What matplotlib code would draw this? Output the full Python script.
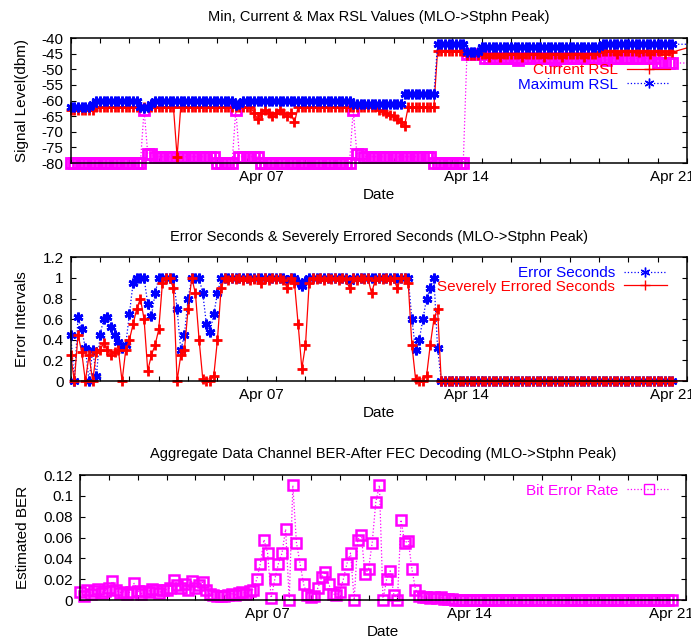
import numpy as np
import pandas as pd
import matplotlib
matplotlib.use('Agg')
import matplotlib.pyplot as plt
import matplotlib.dates as mdates
from matplotlib.lines import Line2D
from matplotlib.ticker import FuncFormatter, MultipleLocator

plt.rcParams['font.family'] = ['Liberation Sans', 'DejaVu Sans']
plt.rcParams['font.size'] = 10.5
plt.rcParams['axes.unicode_minus'] = False

# 3-hourly samples from Mar 31 12:00, plus the last logged point (off the right edge)
sample_times = pd.date_range('2009-03-31 12:00', periods=165, freq='3h')
times = sample_times.append(pd.DatetimeIndex([pd.Timestamp('2009-04-22 12:00')]))
x_start = pd.Timestamp('2009-03-31 12:00')
x_end = pd.Timestamp('2009-04-21 12:00')

# ---- RSL (dBm), one row per day starting at 12:00 ----
min_rsl = [
    -80, -80, -80, -80, -80, -80, -80, -80,
    -80, -80, -80, -80, -80, -80, -80, -80,
    -80, -80, -80, -80, -63, -77, -77, -78,
    -78, -78, -78, -78, -78, -78, -78, -78,
    -78, -78, -78, -78, -78, -78, -78, -78,
    -80, -80, -80, -80, -80, -63, -78, -78,
    -78, -78, -78, -78, -80, -80, -80, -80,
    -80, -80, -80, -80, -80, -80, -80, -80,
    -80, -80, -80, -80, -80, -80, -80, -80,
    -80, -80, -80, -80, -80, -63, -77, -77,
    -78, -78, -78, -78, -78, -78, -78, -78,
    -78, -78, -78, -78, -78, -78, -78, -78,
    -78, -78, -78, -80, -80, -80, -80, -80,
    -80, -80, -80, -80, -45, -45, -45, -45,
    -45, -46.5, -46.5, -46.5, -46.5, -46.5, -46.5, -46.5,
    -46.5, -46.5, -47, -46.5, -46.5, -46.5, -46.5, -46.5,
    -46.5, -46.5, -46.5, -46.5, -47, -46.5, -46.5, -46.5,
    -46.5, -46.5, -46.5, -46.5, -46.5, -46.5, -46.5, -46.5,
    -46.5, -46.5, -47, -46.5, -46.5, -46.5, -46.5, -46.5,
    -46.5, -46.5, -46.5, -46.5, -46.5, -46.5, -46.5, -46.5,
    -48, -48, -48, -48, -48,
    -48,
]

cur_rsl = [
    -63, -63, -63, -63, -63, -63, -63, -62,
    -62, -62, -62, -62, -62, -62, -62, -62,
    -62, -62, -62, -62, -62, -62, -62, -62,
    -62, -62, -62, -62, -62, -78, -62, -62,
    -62, -62, -62, -62, -62, -62, -62, -62,
    -62, -62, -62, -62, -62, -62, -62, -62,
    -62, -62, -64, -66, -64, -63, -64, -65,
    -64, -63, -64, -65, -64, -67, -62, -62,
    -62, -62, -62, -62, -62, -62, -62, -62,
    -62, -62, -62, -62, -62, -62, -62, -62,
    -62, -62, -62, -62, -63, -63.5, -64, -64.5,
    -65, -66, -67, -68, -62, -62, -62, -62,
    -62, -62, -62, -62, -44, -44, -44, -44,
    -44, -44, -44, -44, -45.5, -45.5, -45.5, -45.5,
    -45, -45, -46, -45, -45, -46, -45, -45,
    -45, -45, -45, -46, -45, -45, -45, -45,
    -45, -46, -45, -45, -45, -45, -46, -45,
    -45, -45, -45, -45, -46, -45, -45, -45,
    -44.5, -44, -44, -44, -44, -45, -44, -44,
    -44, -44, -44, -44.5, -44, -44, -45, -44,
    -44, -44, -45, -44, -44.5,
    -40.5,
]

max_rsl = [
    -62, -62, -62, -62, -62, -62, -61, -60,
    -60, -60, -60, -60, -60, -60, -60, -60,
    -60, -60, -60, -62, -62.5, -62, -61, -60,
    -60, -60, -60, -60, -60, -60, -60, -60,
    -60, -60, -60, -60, -60, -60, -60, -60,
    -60, -60, -60, -60, -60, -61.5, -61, -60,
    -60, -60, -60, -60, -60, -60, -60, -60,
    -60, -60, -60, -60, -60, -60, -60, -60,
    -60, -60, -60, -60, -60, -60, -60, -60,
    -60, -60, -60, -60, -60, -61, -61, -61,
    -61, -61, -61, -61, -61, -61, -61, -61,
    -61, -61, -61, -58, -58, -58, -58, -58,
    -58, -58, -58, -58, -42, -42, -42, -42,
    -42, -42, -42, -42, -44.5, -44.5, -44.5, -44.5,
    -43, -43, -43, -43, -43, -43, -43, -43,
    -43, -43, -43, -43, -43, -43, -43, -43,
    -43, -43, -43, -43, -43, -43, -43, -43,
    -43, -43, -43, -43, -43, -43, -43, -43,
    -43, -42, -42, -42, -42, -42, -42, -42,
    -42, -42, -42, -42, -42, -42, -42, -42,
    -42, -42, -42, -42, -42,
    -42,
]

# ---- Error intervals (fraction) ----
err_sec = [
    0.45, 0.0, 0.62, 0.5, 0.32, 0.0, 0.3, 0.05,
    0.45, 0.6, 0.62, 0.52, 0.45, 0.38, 0.32, 0.35,
    0.65, 0.95, 1.0, 1.0, 1.0, 0.75, 0.63, 0.85,
    1.0, 1.0, 1.0, 1.0, 1.0, 0.7, 0.3, 0.45,
    0.8, 1.0, 1.0, 1.0, 0.85, 0.55, 0.48, 0.65,
    0.85, 1.0, 1.0, 1.0, 1.0, 1.0, 1.0, 1.0,
    1.0, 1.0, 1.0, 1.0, 1.0, 1.0, 1.0, 1.0,
    1.0, 1.0, 1.0, 0.98, 1.0, 1.0, 0.96, 0.92,
    0.97, 1.0, 1.0, 1.0, 1.0, 1.0, 1.0, 1.0,
    1.0, 1.0, 1.0, 1.0, 0.97, 1.0, 1.0, 1.0,
    1.0, 1.0, 1.0, 1.0, 1.0, 1.0, 1.0, 1.0,
    1.0, 1.0, 1.0, 1.0, 1.0, 0.6, 0.3, 0.4,
    0.6, 0.8, 0.9, 1.0, 0.32, 0.0, 0.0, 0.0,
    0.0, 0.0, 0.0, 0.0, 0.0, 0.0, 0.0, 0.0,
    0.0, 0.0, 0.0, 0.0, 0.0, 0.0, 0.0, 0.0,
    0.0, 0.0, 0.0, 0.0, 0.0, 0.0, 0.0, 0.0,
    0.0, 0.0, 0.0, 0.0, 0.0, 0.0, 0.0, 0.0,
    0.0, 0.0, 0.0, 0.0, 0.0, 0.0, 0.0, 0.0,
    0.0, 0.0, 0.0, 0.0, 0.0, 0.0, 0.0, 0.0,
    0.0, 0.0, 0.0, 0.0, 0.0, 0.0, 0.0, 0.0,
    0.0, 0.0, 0.0, 0.0, 0.0,
    0.0,
]

sev_err_sec = [
    0.25, 0.0, 0.45, 0.28, 0.0, 0.25, 0.0, 0.28,
    0.3, 0.37, 0.3, 0.25, 0.28, 0.3, 0.0, 0.3,
    0.4, 0.55, 0.7, 0.8, 0.6, 0.1, 0.25, 0.35,
    0.5, 0.95, 1.0, 1.0, 0.9, 0.0, 0.25, 0.3,
    0.7, 1.0, 0.85, 0.4, 0.02, 0.0, 0.0, 0.05,
    0.4, 0.9, 1.0, 0.98, 1.0, 0.99, 1.0, 0.98,
    1.0, 0.98, 0.99, 1.0, 0.95, 1.0, 0.98, 1.0,
    0.99, 1.0, 0.98, 0.9, 1.0, 0.95, 0.55, 0.12,
    0.35, 0.95, 1.0, 0.99, 1.0, 0.98, 1.0, 0.99,
    1.0, 0.98, 1.0, 0.99, 0.9, 1.0, 0.98, 1.0,
    0.99, 1.0, 0.85, 0.98, 1.0, 0.99, 1.0, 0.98,
    1.0, 0.9, 1.0, 1.0, 0.95, 0.35, 0.02, 0.0,
    0.0, 0.05, 0.35, 0.6, 0.7, 0.0, 0.0, 0.0,
    0.0, 0.0, 0.0, 0.0, 0.0, 0.0, 0.0, 0.0,
    0.0, 0.0, 0.0, 0.0, 0.0, 0.0, 0.0, 0.0,
    0.0, 0.0, 0.0, 0.0, 0.0, 0.0, 0.0, 0.0,
    0.0, 0.0, 0.0, 0.0, 0.0, 0.0, 0.0, 0.0,
    0.0, 0.0, 0.0, 0.0, 0.0, 0.0, 0.0, 0.0,
    0.0, 0.0, 0.0, 0.0, 0.0, 0.0, 0.0, 0.0,
    0.0, 0.0, 0.0, 0.0, 0.0, 0.0, 0.0, 0.0,
    0.0, 0.0, 0.0, 0.0, 0.0,
    0.0,
]

# ---- Estimated BER after FEC ----
ber = [
    0.008, 0.004, 0.01, 0.006, 0.009, 0.011, 0.007, 0.009,
    0.012, 0.018, 0.01, 0.007, 0.008, 0.006, 0.008, 0.016,
    0.009, 0.006, 0.009, 0.008, 0.011, 0.01, 0.007, 0.01,
    0.01, 0.012, 0.019, 0.014, 0.012, 0.015, 0.01, 0.018,
    0.012, 0.014, 0.017, 0.01, 0.006, 0.005, 0.004, 0.004,
    0.004, 0.005, 0.006, 0.005, 0.007, 0.008, 0.006, 0.009,
    0.01, 0.02, 0.035, 0.058, 0.045, 0.002, 0.02, 0.035,
    0.045, 0.068, 0.0, 0.11, 0.055, 0.035, 0.015, 0.005,
    0.003, 0.004, 0.012, 0.022, 0.027, 0.015, 0.006, 0.005,
    0.008, 0.02, 0.035, 0.045, 0.0, 0.058, 0.062, 0.025,
    0.03, 0.055, 0.094, 0.11, 0.0, 0.02, 0.028, 0.005,
    0.0, 0.077, 0.055, 0.057, 0.03, 0.01, 0.004, 0.003,
    0.003, 0.002, 0.003, 0.002, 0.003, 0.001, 0.001, 0.0005,
    0.0003, 0.0003, 0.0003, 0.0003, 0.0003, 0.0003, 0.0003, 0.0003,
    0.0003, 0.0003, 0.0003, 0.0003, 0.0003, 0.0003, 0.0003, 0.0003,
    0.0003, 0.0003, 0.0003, 0.0003, 0.0003, 0.0003, 0.0003, 0.0003,
    0.0003, 0.0003, 0.0003, 0.0003, 0.0003, 0.0003, 0.0003, 0.0003,
    0.0003, 0.0003, 0.0003, 0.0003, 0.0003, 0.0003, 0.0003, 0.0003,
    0.0003, 0.0003, 0.0003, 0.0003, 0.0003, 0.0003, 0.0003, 0.0003,
    0.0003, 0.0003, 0.0003, 0.0003, 0.0003, 0.0003, 0.0003, 0.0003,
    0.0003, 0.0003, 0.0003, 0.0003, 0.0003,
    0.0,
]

RED, BLUE, MAGENTA = '#ff0000', '#0000ff', '#ff00ff'
STAR = (6, 2, 0)
inside = times <= x_end


def draw(ax, values, color, ls, marker, ms, mew):
    # gnuplot style: line clipped to the frame, points drawn whole
    y = np.asarray(values, dtype=float)
    ax.plot(times, y, ls=ls, color=color, lw=0.9)
    ax.plot(times[inside], y[inside], ls='none', marker=marker, ms=ms,
            mfc='none', mec=color, mew=mew, clip_on=False)
    # thin sample for the key
    return Line2D([], [], ls=ls, color=color, lw=0.9, marker=marker, ms=7,
                  mfc='none', mec=color, mew=1.0)


def style(ax, ylim, ystep, title, ylabel, ylab_x):
    ax.set_xlim(x_start, x_end)
    ax.set_ylim(*ylim)
    ax.yaxis.set_major_locator(MultipleLocator(ystep))
    ax.yaxis.set_major_formatter(FuncFormatter(lambda v, p: f'{v:g}'))
    ax.xaxis.set_major_locator(mdates.DayLocator(bymonthday=[7, 14, 21]))
    ax.xaxis.set_major_formatter(mdates.DateFormatter('%b %d'))
    ax.xaxis.set_minor_locator(mdates.HourLocator(byhour=12))
    ax.tick_params(which='both', direction='in', top=True, right=True, width=0.8,
                   labelsize=11)
    ax.tick_params(axis='x', which='major', length=0, pad=5)
    ax.tick_params(axis='x', which='minor', length=3.6)
    ax.tick_params(axis='y', which='major', length=3.6, pad=5)
    for sp in ax.spines.values():
        sp.set_linewidth(1.1)
    ax.set_title(title, pad=12, fontsize=10.5)
    ax.set_xlabel('Date', labelpad=3, fontsize=11)
    ax.set_ylabel(ylabel, fontsize=11)
    ax.yaxis.set_label_coords(ylab_x, 0.5)


def key(ax, handles, labels, colors, anchor, spacing):
    leg = ax.legend(handles, labels, loc='upper right', bbox_to_anchor=anchor,
                    frameon=False, markerfirst=False, borderpad=0, borderaxespad=0,
                    fontsize=11, handlelength=2.8, handletextpad=0.6,
                    labelspacing=spacing)
    for txt, c in zip(leg.get_texts(), colors):
        txt.set_color(c)


fig = plt.figure(figsize=(6.91, 6.42), dpi=100)
ax1 = fig.add_axes([0.1023, 0.7461, 0.8920, 0.1947])
ax2 = fig.add_axes([0.1023, 0.4065, 0.8920, 0.1927])
ax3 = fig.add_axes([0.1158, 0.0654, 0.8770, 0.1947])

# Panel 1: RSL
draw(ax1, min_rsl, MAGENTA, ':', 's', 6.5, 2.0)
h_cur = draw(ax1, cur_rsl, RED, '-', '+', 7.5, 2.0)
h_max = draw(ax1, max_rsl, BLUE, ':', STAR, 7, 1.9)
style(ax1, (-80, -40), 5, 'Min, Current & Max RSL Values (MLO->Stphn Peak)',
      'Signal Level(dbm)', -0.068)
key(ax1, [h_cur, h_max], ['Current RSL', 'Maximum RSL'], [RED, BLUE],
    (0.9724, 0.80), 0.04)

# Panel 2: ES / SES
h_es = draw(ax2, err_sec, BLUE, ':', STAR, 7, 1.9)
h_ses = draw(ax2, sev_err_sec, RED, '-', '+', 7.5, 2.0)
style(ax2, (0, 1.2), 0.2, 'Error Seconds & Severely Errored Seconds (MLO->Stphn Peak)',
      'Error Intervals', -0.068)
key(ax2, [h_es, h_ses], ['Error Seconds', 'Severely Errored Seconds'], [BLUE, RED],
    (0.967, 0.93), -0.02)

# Panel 3: BER
h_ber = draw(ax3, ber, MAGENTA, ':', 's', 6.5, 1.8)
style(ax3, (0, 0.12), 0.02, 'Aggregate Data Channel BER-After FEC Decoding (MLO->Stphn Peak)',
      'Estimated BER', -0.082)
key(ax3, [h_ber], ['Bit Error Rate'], [MAGENTA], (0.9736, 0.93), 0.1)

fig.savefig('out.png', dpi=100)
